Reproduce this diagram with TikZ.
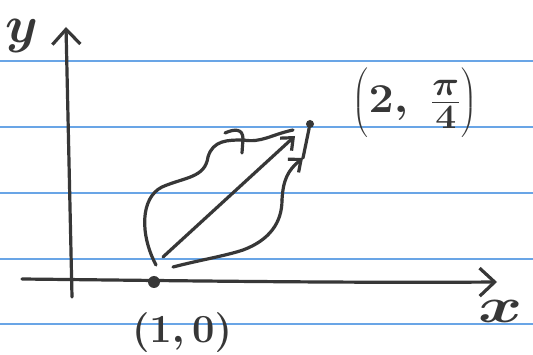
\documentclass[tikz,border=0pt]{standalone}
\usetikzlibrary{arrows.meta}
\definecolor{ink}{RGB}{55,55,55}
\definecolor{rulecol}{RGB}{105,165,230}
\begin{document}
\begin{tikzpicture}[x=1pt,y=-1pt,
  pen/.style={draw=ink, line width=3.2pt, line cap=round, line join=round},
  rule/.style={draw=rulecol, line width=1.8pt},
  axistip/.style={-{Straight Barb[length=15pt,width=28pt]}},
  smalltip/.style={-{Straight Barb[length=10pt,width=17pt]}},
  dot/.style={circle, fill=ink, inner sep=0pt},
  lab/.style={text=ink, inner sep=0pt, font=\fontsize{24.88}{30}\selectfont\boldmath}]
\useasboundingbox[fill=white] (0,0) rectangle (533,355);
% ruled paper
\foreach \yy in {61,127,193,259,324} \draw[rule] (0,\yy) -- (533,\yy);
% axes
\coordinate (yb) at (72,297);
\coordinate (yt) at (66,27);
\coordinate (xl) at (22,279);
\coordinate (xr) at (497,282);
\draw[pen,axistip] (yb) -- (yt);
\draw[pen,axistip] (xl) .. controls (200,281) and (350,283) .. (xr);
% points
\node[dot, minimum size=12pt] (A) at (154,282) {};
\node[dot, minimum size=8pt] (B) at (310,124) {};
% labels
\node[lab, scale=2.1] (ylab) at (22,36) {$y$};
\node[lab, xscale=2.7, yscale=2.0] (xlab) at (501,311) {$x$};
\node[lab, scale=1.6] (alab) at (182,333) {$(1,0)$};
\node[lab, xscale=1.8, yscale=1.65] (blab) at (415,102) {$\left(\rule[-13pt]{0pt}{41pt}2,\ \frac{\pi}{4}\right)$};
% straight path
\coordinate (s1) at (163,257);
\coordinate (s2) at (295,136);
\draw[pen,smalltip] (s1) -- (s2);
% upper wiggly path
\coordinate (u0) at (156,265);
\coordinate (u1) at (162,187);
\coordinate (u2) at (208,157);
\coordinate (u3) at (243,140);
\coordinate (u4) at (293,130);
\draw[pen] (u0) .. controls (140,235) and (140,198) .. (u1)
  .. controls (185,177) and (205,178) .. (u2)
  .. controls (213,140) and (228,140) .. (u3)
  .. controls (262,143) and (270,135) .. (u4);
% hook mark on the upper path
\coordinate (h0) at (225,133);
\coordinate (h1) at (242,153);
\draw[pen] (h0) .. controls (234,129) and (243,128) .. (243,139) -- (h1);
% lower wiggly path
\coordinate (l0) at (173,267);
\coordinate (l1) at (243,250);
\coordinate (l2) at (282,200);
\coordinate (lm) at (303,158);
\draw[pen] (l0) .. controls (200,260) and (225,256) .. (l1)
  .. controls (270,240) and (282,222) .. (l2);
\draw[pen,smalltip] (l2) .. controls (283,180) and (288,170) .. (lm);
\draw[pen] (lm) -- (B);
\end{tikzpicture}
\end{document}
